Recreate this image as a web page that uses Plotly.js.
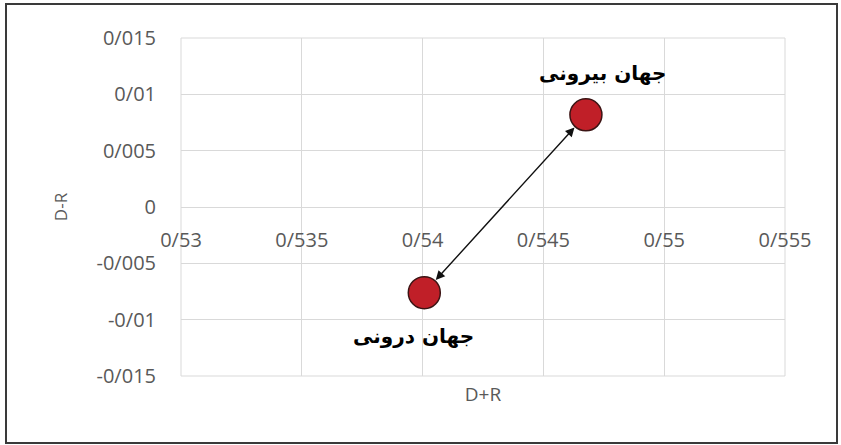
<!DOCTYPE html>
<html>
<head>
<meta charset="utf-8">
<script src="https://cdn.plot.ly/plotly-3.0.1.min.js"></script>
<style>
  html, body { margin: 0; padding: 0; background: #fff; }
  #wrap { position: relative; width: 841px; height: 445px; }
  #chart { position: absolute; left: 0; top: 0; width: 841px; height: 445px; }
  #frame { position: absolute; left: 5px; top: 3px; width: 829px; height: 437px;
           border: 2px solid #3a3a3a; pointer-events: none; }
</style>
</head>
<body>
<div id="wrap"><div id="chart"></div><div id="frame"></div></div>
<script>
// ---- data ----
const pointNames = ['جهان بیرونی', 'جهان درونی'];
const dPlusR  = [0.54676, 0.54007];
const dMinusR = [0.00818, -0.0076];

const xTickVals = [0.53, 0.535, 0.54, 0.545, 0.55, 0.555];
const xTickText = ['0/53', '0/535', '0/54', '0/545', '0/55', '0/555'];
const yTickVals = [-0.015, -0.01, -0.005, 0, 0.005, 0.01, 0.015];
const yTickText = ['-0/015', '-0/01', '-0/005', '0', '0/005', '0/01', '0/015'];

const xTitle = 'D+R';
const yTitle = 'D-R';

// ---- styles ----
const grey = '#595959';
const gridC = '#d9d9d9';
const tickFont = { family: 'Open Sans, sans-serif', size: 20, color: grey };
const labelFont = { family: 'DejaVu Sans, sans-serif', size: 20, color: '#000', weight: 'bold' };

const trace = {
  type: 'scatter',
  mode: 'markers',
  x: dPlusR,
  y: dMinusR,
  text: pointNames,
  hoverinfo: 'text',
  marker: { size: 32, color: '#C01F28', line: { color: '#3b1414', width: 1.5 } },
  showlegend: false
};

const labelShifts = [[17, 42], [-11, -43]];
const annotations = pointNames.map((n, i) => ({
  x: dPlusR[i], y: dMinusR[i], xref: 'x', yref: 'y',
  text: '<b>' + n + '</b>', showarrow: false,
  xshift: labelShifts[i][0], yshift: labelShifts[i][1],
  font: labelFont
}));
annotations.push({
  x: dPlusR[0], y: dMinusR[0], xref: 'x', yref: 'y',
  ax: dPlusR[1], ay: dMinusR[1], axref: 'x', ayref: 'y',
  text: '', showarrow: true, arrowside: 'end+start',
  arrowhead: 2, startarrowhead: 2, arrowsize: 1.3, startarrowsize: 1.3,
  arrowwidth: 1.4, arrowcolor: '#111',
  standoff: 17, startstandoff: 15
});

const layout = {
  width: 841, height: 445,
  margin: { l: 181, r: 56, t: 38, b: 69, pad: 0 },
  paper_bgcolor: '#fff', plot_bgcolor: '#fff',
  showlegend: false,
  xaxis: {
    range: [0.53, 0.555],
    tickvals: xTickVals, ticktext: xTickText,
    tickfont: tickFont,
    anchor: 'free', position: 0.5,
    showgrid: true, gridcolor: gridC, gridwidth: 1,
    zeroline: false, showline: false,
    ticks: '', ticklabelstandoff: 19,
    title: { text: xTitle, font: { family: 'Open Sans, sans-serif', size: 19, color: grey }, standoff: 135 },
    fixedrange: true
  },
  yaxis: {
    range: [-0.015, 0.015],
    tickvals: yTickVals, ticktext: yTickText,
    tickfont: tickFont,
    showgrid: true, gridcolor: gridC, gridwidth: 1,
    zeroline: true, zerolinecolor: gridC, zerolinewidth: 1,
    showline: false,
    ticks: '', ticklabelstandoff: 24,
    title: { text: yTitle, font: { family: 'Open Sans, sans-serif', size: 17, color: grey }, standoff: 24 },
    fixedrange: true
  },
  shapes: [{
    type: 'rect', xref: 'paper', yref: 'paper', x0: 0, x1: 1, y0: 0, y1: 1,
    line: { color: gridC, width: 1 }, fillcolor: 'rgba(0,0,0,0)', layer: 'below'
  }],
  annotations: annotations
};

Plotly.newPlot('chart', [trace], layout, { displayModeBar: false, staticPlot: true });
</script>
</body>
</html>
